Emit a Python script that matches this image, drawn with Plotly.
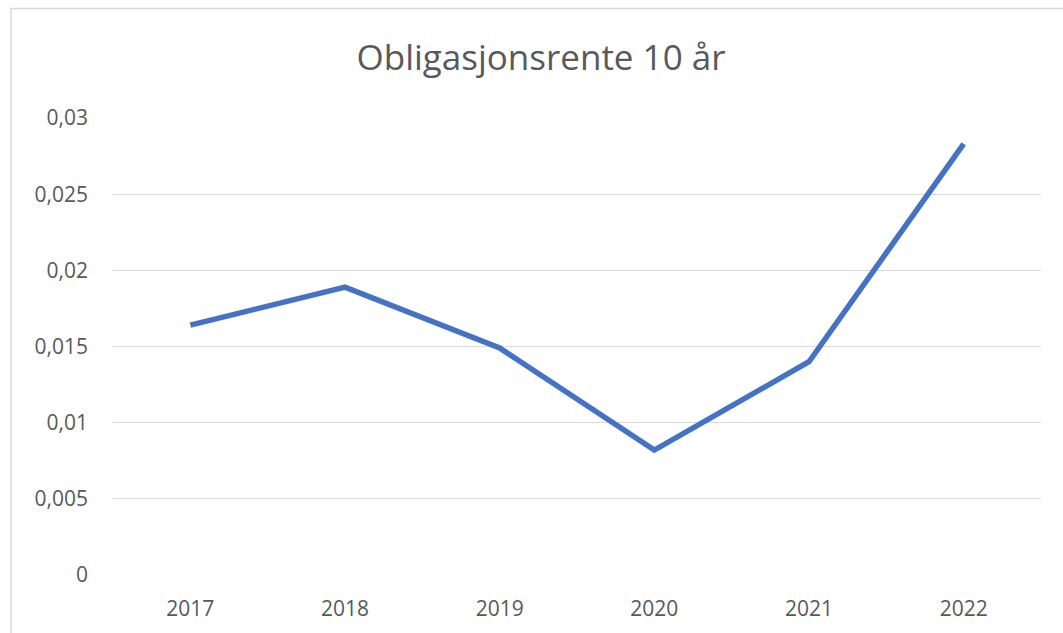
import plotly.graph_objects as go

years = ["2017", "2018", "2019", "2020", "2021", "2022"]
rente = [0.0164, 0.0189, 0.0149, 0.0082, 0.0140, 0.0283]
y_tick_vals = [0, 0.005, 0.01, 0.015, 0.02, 0.025, 0.03]
y_tick_labels = ["0", "0,005", "0,01", "0,015", "0,02", "0,025", "0,03"]
title_text = "Obligasjonsrente 10 år"

W, H = 1063, 633
L, R, T, B = 113, 22, 117.5, 58
pw, ph = W - L - R, H - T - B

fig = go.Figure(go.Scatter(
    x=years, y=rente, mode="lines",
    line=dict(color="#4472C4", width=5.5, shape="linear"),
    hoverinfo="skip", showlegend=False,
))

font_family = "Open Sans, Noto Sans, sans-serif"
fig.update_layout(
    width=W, height=H,
    margin=dict(l=L, r=R, t=T, b=B),
    paper_bgcolor="white", plot_bgcolor="white",
    title=dict(text=title_text, x=541 / W, xref="container", xanchor="center",
               y=1 - 58 / H, yref="container", yanchor="middle",
               font=dict(family=font_family, size=35, color="#595959")),
    xaxis=dict(type="category", range=[-0.5, len(years) - 0.5],
               showgrid=False, showline=False, zeroline=False,
               ticks="", ticklabelstandoff=19,
               tickfont=dict(family=font_family, size=21, color="#595959")),
    yaxis=dict(range=[0, 0.03], tickvals=y_tick_vals, ticktext=y_tick_labels,
               showgrid=True, gridcolor="#D9D9D9", gridwidth=1,
               zeroline=False, showline=False, ticks="", ticklabelstandoff=24,
               tickfont=dict(family=font_family, size=21, color="#595959")),
    shapes=[dict(type="rect", xref="paper", yref="paper",
                 x0=(11 - L) / pw, x1=(W + 20 - L) / pw,
                 y0=(H - B - (H + 20)) / ph, y1=(H - B - 8) / ph,
                 line=dict(color="#D9D9D9", width=1.5), fillcolor="rgba(0,0,0,0)",
                 layer="below")],
)

fig.write_html("out.html", config={"displayModeBar": False},
               post_script="document.body.style.margin='0';document.body.style.overflow='hidden';")
